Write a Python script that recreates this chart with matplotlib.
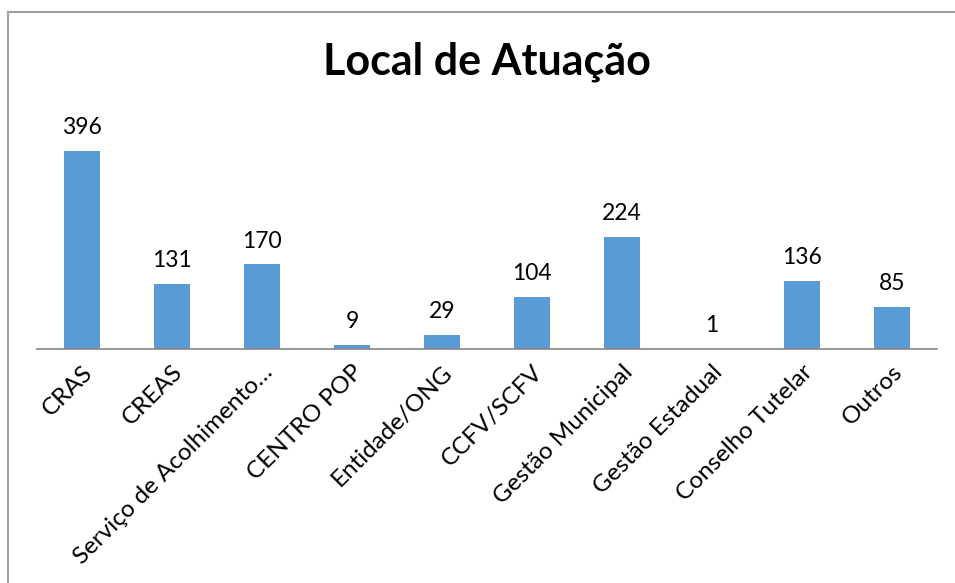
import matplotlib.pyplot as plt
from matplotlib.lines import Line2D

categories = ["CRAS", "CREAS", "Serviço de Acolhimento…", "CENTRO POP", "Entidade/ONG",
              "CCFV/SCFV", "Gestão Municipal", "Gestão Estadual", "Conselho Tutelar", "Outros"]
values = [396, 131, 170, 9, 29, 104, 224, 1, 136, 85]

BLUE = "#5B9BD5"
plt.rcParams["font.family"] = ["Lato", "DejaVu Sans"]

fig = plt.figure(figsize=(9.55, 5.83), dpi=100)
ax = fig.add_axes([37 / 955, 1 - 349 / 583, 900 / 955, 250 / 583])

x = range(len(categories))
ax.bar(x, values, width=0.4, color=BLUE)
for xi, v in zip(x, values):
    ax.annotate(str(v), (xi, v), xytext=(0, 9), textcoords="offset points",
                ha="center", va="bottom", fontsize=16.5)

ax.set_xlim(-0.5, len(categories) - 0.5)
ax.set_ylim(0, 500)
ax.set_yticks([])
for s in ["left", "right", "top"]:
    ax.spines[s].set_visible(False)
ax.spines["bottom"].set_color("#868686")
ax.spines["bottom"].set_linewidth(1.2)
ax.set_xticks(list(x))
ax.set_xticklabels(categories, rotation=45, ha="right", va="top",
                   rotation_mode="anchor", fontsize=17.5)
ax.tick_params(axis="x", length=0, pad=9)

fig.text(487 / 955, 1 - 62 / 583, "Local de Atuação", ha="center", va="center",
         fontsize=31, fontweight="bold")

# frame (only left and top edges are visible in the crop)
fig.add_artist(Line2D([8 / 955, 8 / 955], [0, 1 - 12 / 583], color="#A0A0A0", lw=1.5))
fig.add_artist(Line2D([8 / 955, 1], [1 - 12 / 583, 1 - 12 / 583], color="#A0A0A0", lw=1.5))

fig.savefig("out.png", dpi=100)
